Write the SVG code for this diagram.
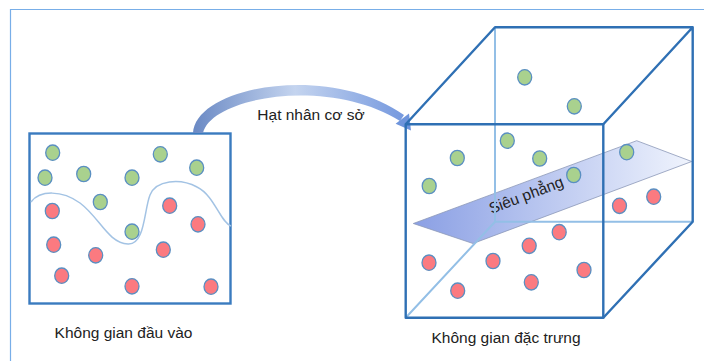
<svg xmlns="http://www.w3.org/2000/svg" width="704" height="361" viewBox="0 0 704 361">
  <defs>
    <linearGradient id="arrowGrad" x1="193" y1="0" x2="420" y2="0" gradientUnits="userSpaceOnUse">
      <stop offset="0" stop-color="#6a89c4"/>
      <stop offset="0.45" stop-color="#c4d4ef"/>
      <stop offset="1" stop-color="#6a90dc"/>
    </linearGradient>
    <linearGradient id="planeGrad" x1="413" y1="0" x2="692" y2="0" gradientUnits="userSpaceOnUse">
      <stop offset="0" stop-color="#8a9fe4"/>
      <stop offset="1" stop-color="#f0f4fd"/>
    </linearGradient>
  </defs>
  <style>
    .frame { fill: none; stroke: #78aee8; stroke-width: 1.2; }
    .box { fill: none; stroke: #3a7bbf; stroke-width: 2.4; }
    .edge { fill: none; stroke: #2f70b4; stroke-width: 2.4; stroke-linejoin: round; }
    .hidden { fill: none; stroke: #93bfe6; stroke-width: 2; }
    .boundary { fill: none; stroke: #a3c3e4; stroke-width: 1.5; }
    .g { fill: #a9d18e; stroke: #5a8fc2; stroke-width: 1.3; }
    .r { fill: #fb7a80; stroke: #5a8fc2; stroke-width: 1.3; }
    .label { font-family: "Liberation Sans", Arial, sans-serif; font-size: 15.5px; fill: #222; }
  </style>

  <!-- outer frame -->
  <path class="frame" d="M10.5,361 V9.5 H704"/>

  <!-- input space -->
  <g id="input-space">
    <rect class="box" x="29.5" y="133.5" width="201" height="170"/>
    <path class="boundary" d="M31,202 C40,190 62,190 80,203 C100,218 108,243 128,244 C145,245 144,210 150,195 C156,180 180,178 197,187 C215,196 220,222 231,226"/>
    <ellipse class="g" cx="52.7" cy="152.7" rx="7" ry="7.7"/>
    <ellipse class="g" cx="45" cy="177.7" rx="7" ry="7.7"/>
    <ellipse class="g" cx="83.7" cy="174" rx="7" ry="7.7"/>
    <ellipse class="g" cx="132" cy="177.7" rx="7" ry="7.7"/>
    <ellipse class="g" cx="160.3" cy="154.3" rx="7" ry="7.7"/>
    <ellipse class="g" cx="196.7" cy="167.7" rx="7" ry="7.7"/>
    <ellipse class="g" cx="100.3" cy="202" rx="7" ry="7.7"/>
    <ellipse class="g" cx="132" cy="231.7" rx="7" ry="7.7"/>
    <ellipse class="r" cx="52.3" cy="211" rx="7" ry="7.7"/>
    <ellipse class="r" cx="53.7" cy="244.7" rx="7" ry="7.7"/>
    <ellipse class="r" cx="95.7" cy="255.3" rx="7" ry="7.7"/>
    <ellipse class="r" cx="61.7" cy="275.7" rx="7" ry="7.7"/>
    <ellipse class="r" cx="132" cy="286.3" rx="7" ry="7.7"/>
    <ellipse class="r" cx="169.7" cy="205.7" rx="7" ry="7.7"/>
    <ellipse class="r" cx="198" cy="224.3" rx="7" ry="7.7"/>
    <ellipse class="r" cx="163.3" cy="249.7" rx="7" ry="7.7"/>
    <ellipse class="r" cx="211" cy="286.7" rx="7" ry="7.7"/>
    <text class="label" x="123.5" y="338" text-anchor="middle">Không gian đầu vào</text>
  </g>

  <!-- kernel mapping arrow -->
  <g id="connectors">
    <path fill="url(#arrowGrad)" d="M193,133 C196,86 330,62 404,115 L400,121 C330,77 212,96 203,133 Z"/>
    <polygon fill="#6f95dc" points="395.6,123.8 409,113.5 411,130.5"/>
    <text class="label" x="311" y="119.5" text-anchor="middle" font-size="15">Hạt nhân cơ sở</text>
  </g>

  <!-- feature space -->
  <g id="feature-space">
    <polygon points="413.3,223.5 636.7,140.7 691.7,161.5 473,243.5" fill="url(#planeGrad)" stroke="#8c98b8" stroke-width="0.8"/>
    <text class="label" x="528" y="200" text-anchor="middle" font-size="16" transform="rotate(-21 528 200)">Siêu phẳng</text>
    <!-- hidden edges -->
    <path class="hidden" d="M495,27.3 V221.7 H692.7 M495,221.7 L405.7,317.7"/>
    <!-- visible edges -->
    <rect class="edge" x="405.7" y="124.3" width="197.6" height="193.4"/>
    <path class="edge" d="M405.7,124.3 L495,27.3 H692.7 L603.3,124.3 M692.7,27.3 V221.7 L603.3,317.7"/>
    <ellipse class="g" cx="524.7" cy="77.3" rx="7" ry="7.7"/>
    <ellipse class="g" cx="574.3" cy="106.3" rx="7" ry="7.7"/>
    <ellipse class="g" cx="507.3" cy="140.7" rx="7" ry="7.7"/>
    <ellipse class="g" cx="457.3" cy="158" rx="7" ry="7.7"/>
    <ellipse class="g" cx="539.7" cy="158.5" rx="7" ry="7.7"/>
    <ellipse class="g" cx="573.7" cy="175" rx="7" ry="7.7"/>
    <ellipse class="g" cx="626.7" cy="152.2" rx="7" ry="7.7"/>
    <ellipse class="g" cx="429.2" cy="186" rx="7" ry="7.7"/>
    <ellipse class="r" cx="619.5" cy="205.8" rx="7" ry="7.7"/>
    <ellipse class="r" cx="653.7" cy="196.7" rx="7" ry="7.7"/>
    <ellipse class="r" cx="559.2" cy="232.2" rx="7" ry="7.7"/>
    <ellipse class="r" cx="529.2" cy="245.8" rx="7" ry="7.7"/>
    <ellipse class="r" cx="429" cy="262.7" rx="7" ry="7.7"/>
    <ellipse class="r" cx="493" cy="261" rx="7" ry="7.7"/>
    <ellipse class="r" cx="584" cy="270" rx="7" ry="7.7"/>
    <ellipse class="r" cx="531.3" cy="282.3" rx="7" ry="7.7"/>
    <ellipse class="r" cx="457.7" cy="290.7" rx="7" ry="7.7"/>
    <text class="label" x="506" y="343" text-anchor="middle">Không gian đặc trưng</text>
  </g>
</svg>
